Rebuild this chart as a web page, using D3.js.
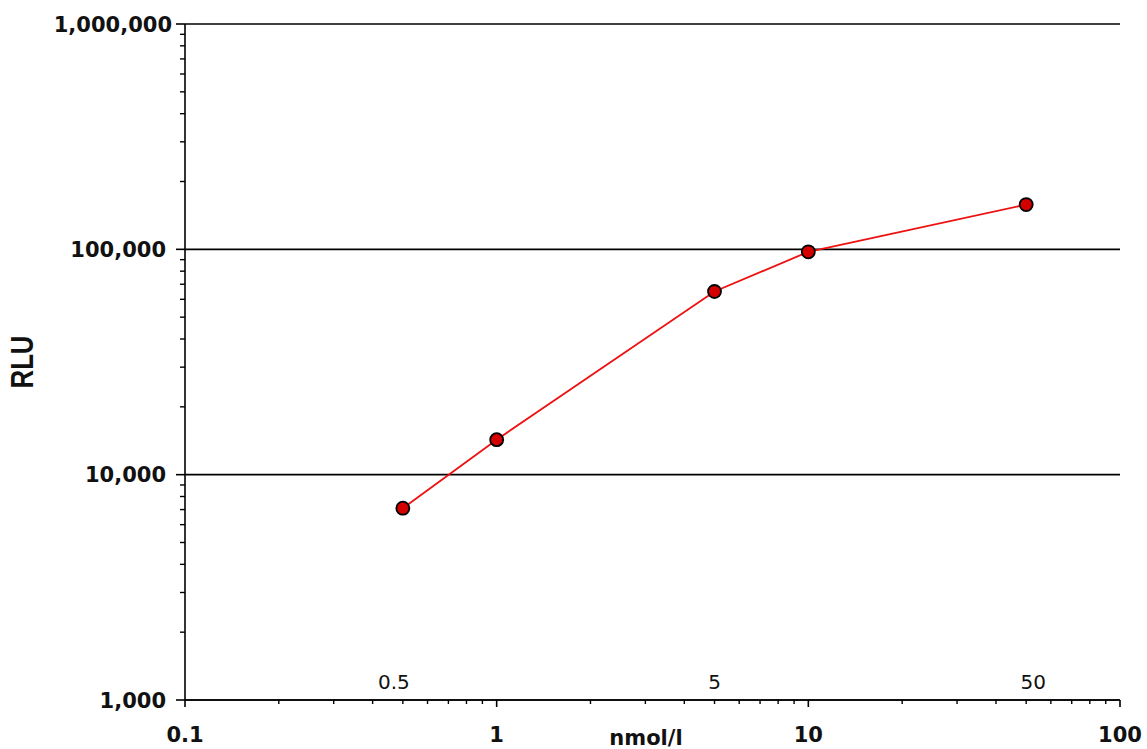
<!DOCTYPE html>
<html>
<head>
<meta charset="utf-8">
<script src="https://cdn.jsdelivr.net/npm/d3@7"></script>
<style>
  body { margin: 0; background: #fff; }
  svg text { fill: #111; }
</style>
</head>
<body>
<script>
// concentration (nmol/l) vs RLU
const conc = [0.5, 1, 5, 10, 50];
const rlu = [7100, 14300, 65000, 97500, 158000];
const xTicks = [0.1, 1, 10, 100];
const yTicks = [1000, 10000, 100000, 1000000];
const annotated = [0.5, 5, 50];

const margin = { top: 24, left: 185, right: 27, bottom: 49 };
const width = 1147, height = 749;
const w = width - margin.left - margin.right,
  h = height - margin.top - margin.bottom;

const xScale = d3.scaleLog().domain([0.1, 100]).range([0, w]);
const yScale = d3.scaleLog().domain([1000, 1000000]).range([h, 0]);

const svg = d3.select('body')
  .append('svg')
  .attr('width', width)
  .attr('height', height);

const g = svg.append('g')
  .attr('transform', `translate(${margin.left}, ${margin.top})`);

const font = 'DejaVu Sans, Verdana, sans-serif';

// minor ticks
const minorX = [];
const minorY = [];
for (let d = 0.1; d < 100; d *= 10) {
  for (let k = 2; k <= 9; k++) minorX.push(+(d * k).toPrecision(3));
}
for (let d = 1000; d < 1000000; d *= 10) {
  for (let k = 2; k <= 9; k++) minorY.push(d * k);
}

// gridlines
g.selectAll('.grid')
  .data(yTicks)
  .enter()
  .append('line')
  .attr('x1', 0)
  .attr('x2', w)
  .attr('y1', d => yScale(d))
  .attr('y2', d => yScale(d))
  .attr('stroke', '#000')
  .attr('stroke-width', 1.6);

// x axis
const xAxis = g.append('g')
  .attr('transform', `translate(0, ${h})`);
xAxis.append('line')
  .attr('x1', 0).attr('x2', w)
  .attr('stroke', '#000').attr('stroke-width', 1.6);
xAxis.selectAll('.minor')
  .data(minorX)
  .enter()
  .append('line')
  .attr('x1', d => xScale(d)).attr('x2', d => xScale(d))
  .attr('y1', 0).attr('y2', 4)
  .attr('stroke', '#000').attr('stroke-width', 1.4);
xAxis.selectAll('.major')
  .data(xTicks)
  .enter()
  .append('line')
  .attr('x1', d => xScale(d)).attr('x2', d => xScale(d))
  .attr('y1', 0).attr('y2', 7)
  .attr('stroke', '#000').attr('stroke-width', 1.6);
xAxis.selectAll('.lab')
  .data(xTicks)
  .enter()
  .append('text')
  .attr('x', d => xScale(d))
  .attr('y', 42)
  .attr('text-anchor', 'middle')
  .style('font', `bold 21px ${font}`)
  .text(d => d3.format(',')(d));

// y axis
const yAxis = g.append('g');
yAxis.append('line')
  .attr('y1', 0).attr('y2', h)
  .attr('stroke', '#000').attr('stroke-width', 1.6);
yAxis.selectAll('.minor')
  .data(minorY)
  .enter()
  .append('line')
  .attr('y1', d => yScale(d)).attr('y2', d => yScale(d))
  .attr('x1', 0).attr('x2', -5)
  .attr('stroke', '#000').attr('stroke-width', 1.4);
yAxis.selectAll('.major')
  .data(yTicks)
  .enter()
  .append('line')
  .attr('y1', d => yScale(d)).attr('y2', d => yScale(d))
  .attr('x1', 0).attr('x2', -9)
  .attr('stroke', '#000').attr('stroke-width', 1.6);
yAxis.selectAll('.lab')
  .data(yTicks)
  .enter()
  .append('text')
  .attr('x', d => d === 1000000 ? -13 : -19)
  .attr('y', d => yScale(d))
  .attr('dy', '0.36em')
  .attr('text-anchor', 'end')
  .style('font', `bold 21px ${font}`)
  .text(d => d3.format(',')(d));

// axis titles
svg.append('text')
  .attr('x', 646)
  .attr('y', 745)
  .attr('text-anchor', 'middle')
  .style('font', `bold 21px ${font}`)
  .text('nmol/l');

svg.append('text')
  .attr('transform', 'translate(33, 362) rotate(-90) scale(0.92, 1.12)')
  .attr('text-anchor', 'middle')
  .style('font', 'bold 28px Liberation Sans, Arial, sans-serif')
  .text('RLU');

// concentration labels above x axis
const annShift = { 0.5: -9, 5: 0, 50: 7 };
g.selectAll('.ann')
  .data(annotated)
  .enter()
  .append('text')
  .attr('x', d => xScale(d) + annShift[d])
  .attr('y', h - 11)
  .attr('text-anchor', 'middle')
  .style('font', `20px ${font}`)
  .text(d => d);

// data line and points
const pts = conc.map((c, i) => [c, rlu[i]]);
const line = d3.line()
  .x(d => xScale(d[0]))
  .y(d => yScale(d[1]));

g.append('path')
  .datum(pts)
  .attr('d', line)
  .attr('fill', 'none')
  .attr('stroke', '#ee1111')
  .attr('stroke-width', 1.8);

g.selectAll('.pt')
  .data(pts)
  .enter()
  .append('circle')
  .attr('cx', d => xScale(d[0]))
  .attr('cy', d => yScale(d[1]))
  .attr('r', 6.5)
  .attr('fill', '#d40000')
  .attr('stroke', '#000')
  .attr('stroke-width', 1.8);
</script>
</body>
</html>
